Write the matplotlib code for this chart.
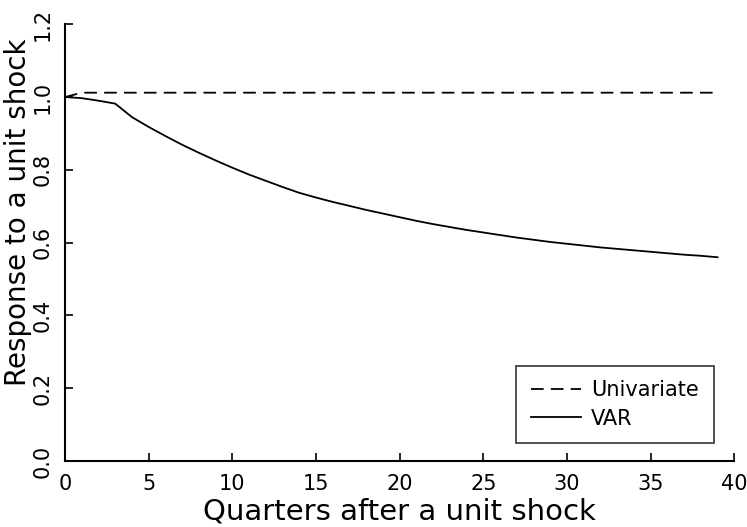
import numpy as np
import matplotlib.pyplot as plt

quarters = list(range(40))
univariate = [1.0] + [1.012] * 39
var = [1.000, 0.997, 0.990, 0.982, 0.945, 0.918, 0.893, 0.869, 0.847, 0.826,
       0.806, 0.787, 0.770, 0.753, 0.737, 0.724, 0.712, 0.701, 0.690, 0.680,
       0.670, 0.660, 0.651, 0.643, 0.635, 0.628, 0.621, 0.614, 0.608, 0.602,
       0.597, 0.592, 0.587, 0.583, 0.579, 0.575, 0.571, 0.567, 0.564, 0.560]
xticks = [0, 5, 10, 15, 20, 25, 30, 35, 40]
yticks = [0.0, 0.2, 0.4, 0.6, 0.8, 1.0, 1.2]


def main():
    fig = plt.figure(figsize=(7.47, 5.27), dpi=100)
    ax = fig.add_axes([0.087, 0.125, 0.896, 0.829])
    ax.plot(quarters, univariate, "k--", lw=1.3, dashes=(7, 4), label="Univariate")
    ax.plot(quarters, var, "k-", lw=1.3, label="VAR")
    ax.set_xlim(0, 40)
    ax.set_ylim(0, 1.2)
    ax.set_xticks(xticks)
    ax.set_yticks(yticks)
    ax.set_yticklabels(["%.1f" % v for v in yticks], rotation=90, va="center")
    ax.tick_params(direction="in", length=6, width=1.2, labelsize=15, pad=9)
    for s in ["top", "right"]:
        ax.spines[s].set_visible(False)
    for s in ["left", "bottom"]:
        ax.spines[s].set_linewidth(1.5)
    ax.set_xlabel("Quarters after a unit shock", fontsize=21, labelpad=3)
    ax.set_ylabel("Response to a unit shock", fontsize=20)
    ax.yaxis.set_label_coords(-0.05, 0.57)
    leg = ax.legend(loc="lower right", bbox_to_anchor=(0.969, 0.041), borderaxespad=0,
                    fontsize=15, frameon=True, fancybox=False, edgecolor="black",
                    handlelength=2.4, handletextpad=0.5, borderpad=0.7,
                    labelspacing=0.4)
    leg.get_frame().set_linewidth(1.2)
    fig.savefig("out.png", dpi=100)


if __name__ == '__main__':
    main()
